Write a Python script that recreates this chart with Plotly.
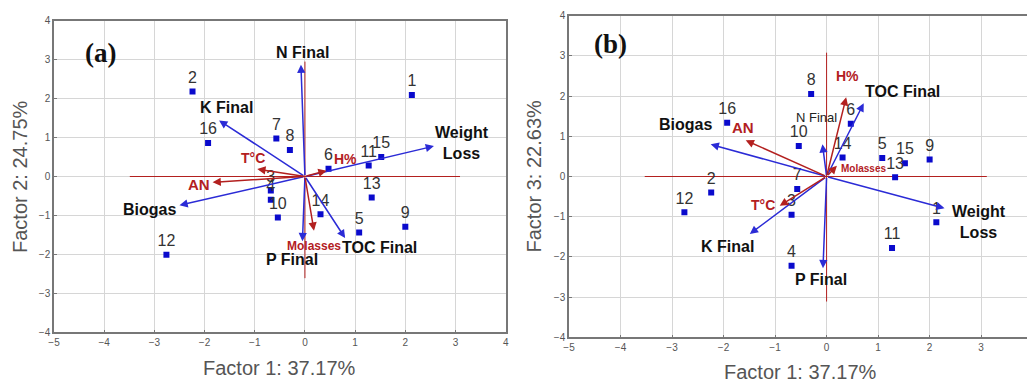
import plotly.graph_objects as go

# ---- Data ----
cases = [str(i) for i in range(1, 17)]
factor1 = [2.13, -2.24, -0.68, -0.68, 1.08, 0.47, -0.57, -0.30, 2.00, -0.54, 1.27, -2.76, 1.33, 0.31, 1.52, -1.93]
factor2 = [2.09, 2.18, -0.36, -0.60, -1.44, 0.20, 0.975, 0.68, -1.29, -1.05, 0.28, -2.01, -0.54, -0.97, 0.50, 0.86]
factor3 = [-1.14, -0.40, -0.95, -2.22, 0.46, 1.31, -0.31, 2.05, 0.42, 0.76, -1.78, -0.89, -0.02, 0.47, 0.33, 1.34]

# Active variables (blue) and supplementary variables (red)
active_vars = ["N Final", "K Final", "Weight Loss", "Biogas", "P Final", "TOC Final"]
active_a_x = [-0.08, -1.71, 2.57, -2.50, -0.05, 0.80]
active_a_y = [2.87, 1.44, 0.78, -0.74, -1.66, -1.58]
active_b_x = [-0.08, -1.49, 2.29, -2.25, -0.07, 0.72]
active_b_y = [0.80, -1.43, -0.79, 0.80, -2.28, 1.82]

supp_vars = ["T°C", "AN", "H%", "Molasses"]
supp_a_x = [-0.95, -1.84, 0.43, 0.18]
supp_a_y = [0.19, -0.15, 0.15, -1.39]
supp_b_x = [-0.91, -1.57, 0.38, 0.20]
supp_b_y = [-0.73, 0.90, 1.97, 0.27]

# label anchor positions for variables
active_a_lx = [-0.05, -1.57, 3.13, -3.10, -0.25, 1.49]
active_a_ly = [3.19, 1.78, 0.86, -0.85, -2.13, -1.82]
active_b_lx = [-0.20, -1.93, 2.96, -2.74, -0.11, 1.47]
active_b_ly = [1.46, -1.73, -1.135, 1.29, -2.55, 2.11]
supp_a_lx = [-1.04, -2.12, 0.81, 0.18]
supp_a_ly = [0.48, -0.205, 0.45, -1.79]
supp_b_lx = [-1.23, -1.62, 0.41, 0.72]
supp_b_ly = [-0.71, 1.23, 2.50, 0.21]

# red reference cross lines
cross_a_h = [-3.49, 3.09]
cross_a_v = [-2.61, 2.95]
cross_b_h = [-3.53, 3.11]
cross_b_v = [-3.11, 3.08]

xlabel = "Factor 1: 37.17%"
ylabel_a = "Factor 2: 24.75%"
ylabel_b = "Factor 3: 22.63%"
ticks_x = [-5, -4, -3, -2, -1, 0, 1, 2, 3, 4]
ticks_y = [-4, -3, -2, -1, 0, 1, 2, 3, 4]

BLUE_M = "#0a0acc"
BLUE = "#2b2bd6"
RED = "#b3201f"
TXT = "#333333"

fig = go.Figure()

def add_panel(xr, yr, fy, cross_h, cross_v):
    # red cross
    fig.add_trace(go.Scatter(x=cross_h, y=[0, 0], mode="lines", line=dict(color=RED, width=1),
                             hoverinfo="skip", showlegend=False, xaxis=xr, yaxis=yr))
    fig.add_trace(go.Scatter(x=[0, 0], y=cross_v, mode="lines", line=dict(color=RED, width=1),
                             hoverinfo="skip", showlegend=False, xaxis=xr, yaxis=yr))
    # cases
    fig.add_trace(go.Scatter(x=factor1, y=fy, mode="markers+text", text=cases,
                             textposition="top center",
                             textfont=dict(family="Liberation Sans, Arial", size=16, color=TXT),
                             marker=dict(symbol="square", size=6, color=BLUE_M),
                             showlegend=False, xaxis=xr, yaxis=yr))

add_panel("x", "y", factor2, cross_a_h, cross_a_v)
add_panel("x2", "y2", factor3, cross_b_h, cross_b_v)

annotations = []

def arrows(xref, yref, xs, ys, color):
    for x, y in zip(xs, ys):
        annotations.append(dict(x=x, y=y, ax=0, ay=0, xref=xref, yref=yref, axref=xref, ayref=yref,
                                text="", showarrow=True, arrowhead=2, arrowsize=1.1, arrowwidth=1.5,
                                arrowcolor=color))

def labels(xref, yref, names, xs, ys, color, sizes, bold=True):
    for n, x, y, s in zip(names, xs, ys, sizes):
        t = n.replace("Weight Loss", "Weight<br>Loss")
        annotations.append(dict(x=x, y=y, xref=xref, yref=yref, text=f"<b>{t}</b>" if bold else t,
                                showarrow=False, font=dict(family="Liberation Sans, Arial", size=s, color=color),
                                xanchor="center", yanchor="middle"))

arrows("x", "y", active_a_x, active_a_y, BLUE)
arrows("x", "y", supp_a_x, supp_a_y, RED)
arrows("x2", "y2", active_b_x, active_b_y, BLUE)
arrows("x2", "y2", supp_b_x, supp_b_y, RED)

labels("x", "y", active_vars, active_a_lx, active_a_ly, "#111111", [16] * 6)
labels("x", "y", supp_vars, supp_a_lx, supp_a_ly, RED, [14, 15, 14, 12])
labels("x2", "y2", active_vars[1:], active_b_lx[1:], active_b_ly[1:], "#111111", [16] * 5)
labels("x2", "y2", active_vars[:1], active_b_lx[:1], active_b_ly[:1], "#222222", [13], bold=False)
labels("x2", "y2", supp_vars, supp_b_lx, supp_b_ly, RED, [14, 15, 14, 10])

# panel letters
annotations.append(dict(x=-4.08, y=3.16, xref="x", yref="y", text="<b>(a)</b>", showarrow=False,
                        font=dict(family="Liberation Serif, Times New Roman", size=27, color="#111111")))
annotations.append(dict(x=-4.2, y=3.3, xref="x2", yref="y2", text="<b>(b)</b>", showarrow=False,
                        font=dict(family="Liberation Serif, Times New Roman", size=27, color="#111111")))

# axis titles
TF = dict(family="Liberation Sans, Arial", size=20, color="#555555")
annotations.append(dict(x=279 / 1027, y=1 - 367.5 / 383, xref="paper", yref="paper", text=xlabel,
                        showarrow=False, font=TF, xanchor="center", yanchor="middle"))
annotations.append(dict(x=20 / 1027, y=1 - 177 / 383, xref="paper", yref="paper", text=ylabel_a,
                        showarrow=False, font=TF, textangle=-90, xanchor="center", yanchor="middle"))
annotations.append(dict(x=800 / 1027, y=1 - 372 / 383, xref="paper", yref="paper", text=xlabel,
                        showarrow=False, font=TF, xanchor="center", yanchor="middle"))
annotations.append(dict(x=533 / 1027, y=1 - 176.5 / 383, xref="paper", yref="paper", text=ylabel_b,
                        showarrow=False, font=TF, textangle=-90, xanchor="center", yanchor="middle"))

tickfont = dict(family="Liberation Sans, Arial", size=10, color="#555555")
common = dict(showgrid=True, gridcolor="#d6d6d6", gridwidth=1, zeroline=False, showline=True,
              linecolor="#777777", linewidth=1.5, ticks="inside", ticklen=3, tickcolor="#777777",
              tickfont=tickfont, fixedrange=True, automargin=False)

fig.update_layout(
    template="none",
    width=1027, height=383, autosize=False,
    margin=dict(l=0, r=0, t=0, b=0, pad=0),
    paper_bgcolor="white", plot_bgcolor="white",
    showlegend=False,
    annotations=annotations,
    xaxis=dict(domain=[54 / 1027, 505.7 / 1027], range=[-5, 4], tickvals=ticks_x, mirror=True,
               anchor="y", **common),
    yaxis=dict(domain=[1 - 332.3 / 383, 1 - 20.7 / 383], range=[-4, 4], tickvals=ticks_y, mirror=True,
               anchor="x", **common),
    xaxis2=dict(domain=[569 / 1027, 1.0], range=[-5, 3.89], tickvals=ticks_x, mirror=True,
                anchor="y2", **common),
    yaxis2=dict(domain=[1 - 337.3 / 383, 1 - 15.7 / 383], range=[-4, 4], tickvals=ticks_y, mirror=False,
                anchor="x2", **common),
)

fig.write_html("out.html", config={"displayModeBar": False},
               post_script="document.body.style.margin='0';document.body.style.overflow='hidden';")
